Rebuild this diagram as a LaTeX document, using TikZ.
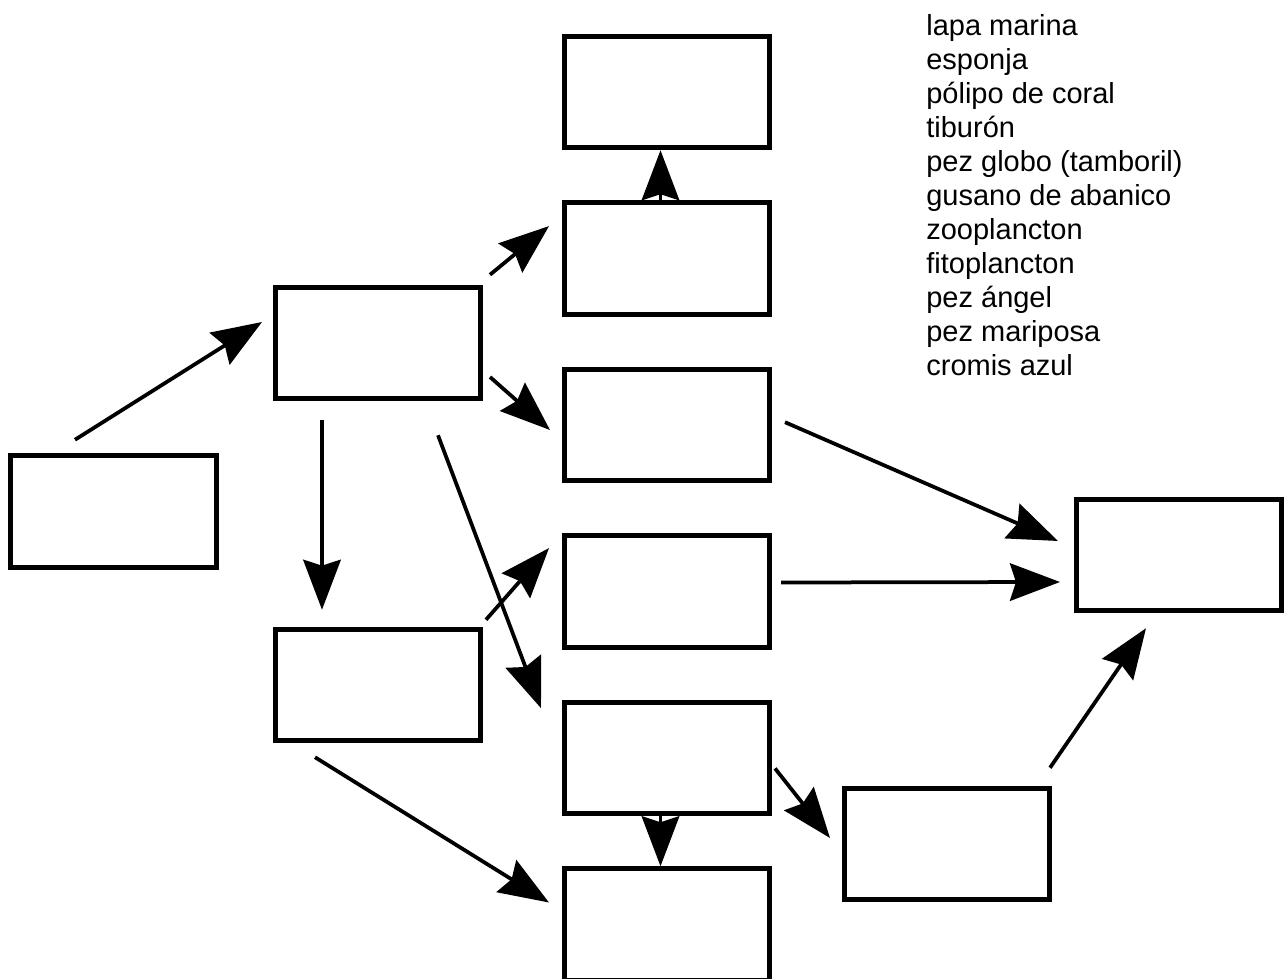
\documentclass[tikz,border=0pt]{standalone}
\usepackage{fontspec}
\setmainfont{Liberation Sans}
\usetikzlibrary{arrows.meta, positioning}

\begin{document}
\begin{tikzpicture}[
            x=0.2mm, y=-0.2mm,
            caja/.style={rectangle, draw, line width=1mm, minimum width=41mm, minimum height=22.3mm, inner sep=0pt},
            flecha/.style={draw, line width=0.75mm, -{Stealth[length=10mm, width=7.5mm, inset=1.2mm]}},
            lista/.style={align=left, anchor=north west, inner sep=0pt, font=\fontsize{16.5}{19.35}\selectfont},
        ]
            \useasboundingbox (0,0) rectangle (1284,979);

            % Cajas
            \node[caja] (izquierda) at (113.5,511.5) {};
            \node[caja] (centro_sup) at (378,343) {};
            \node[caja] (centro_inf) at (378,685) {};
            \node[caja] (col_1) at (666.5,92) {};
            \node[caja, below=10mm of col_1] (col_2) {};
            \node[caja, below=10mm of col_2] (col_3) {};
            \node[caja, below=10mm of col_3] (col_4) {};
            \node[caja, below=10mm of col_4] (col_5) {};
            \node[caja, below=10mm of col_5] (col_6) {};
            \node[caja] (derecha) at (1178.5,555) {};
            \node[caja] (abajo) at (947,844) {};

            % Lista de especies
            \node[lista] (especies) at (926,14) {lapa marina\\ esponja\\ pólipo de coral\\ tiburón\\ pez globo (tamboril)\\ gusano de abanico\\ zooplancton\\ fitoplancton\\ pez ángel\\ pez mariposa\\ cromis azul};

            % Flechas
            \draw[flecha] ([shift={(-38.5,-13.5)}]izquierda.north) -- ([shift={(-11,-21)}]centro_sup.west);
            \draw[flecha] ([shift={(7,-10)}]centro_sup.north east) -- ([shift={(-12.5,-32.4)}]col_2.west);
            \draw[flecha] ([shift={(7,34)}]centro_sup.east) -- ([shift={(-11.5,5)}]col_3.west);
            \draw[flecha] ([shift={(-56,19)}]centro_sup.south) -- ([shift={(-56,-17)}]centro_inf.north);
            \draw[flecha] ([shift={(60,34)}]centro_sup.south) -- ([shift={(-20.5,8.4)}]col_5.north west);
            \draw[flecha] ([shift={(3,-7)}]centro_inf.north east) -- ([shift={(-12.5,14.8)}]col_4.north west);
            \draw[flecha] ([shift={(-63,14)}]centro_inf.south) -- ([shift={(-12.5,-22)}]col_6.west);
            \draw[flecha] ([xshift=-1.2mm]col_2.north) -- ([xshift=-1.2mm]col_1.south);
            \draw[flecha] ([xshift=-1.2mm]col_5.south) -- ([xshift=-1.2mm]col_6.north);
            \draw[flecha] ([shift={(13.5,-2.8)}]col_3.east) -- ([shift={(-15.5,-14)}]derecha.west);
            \draw[flecha] ([shift={(9.5,-9)}]col_4.east) -- ([shift={(-13.5,27)}]derecha.west);
            \draw[flecha] ([shift={(3.5,10.4)}]col_5.east) -- ([shift={(-12,-6)}]abajo.west);
            \draw[flecha] ([shift={(-2,-18)}]abajo.north east) -- ([shift={(-32.5,15)}]derecha.south);
        \end{tikzpicture}
\end{document}
